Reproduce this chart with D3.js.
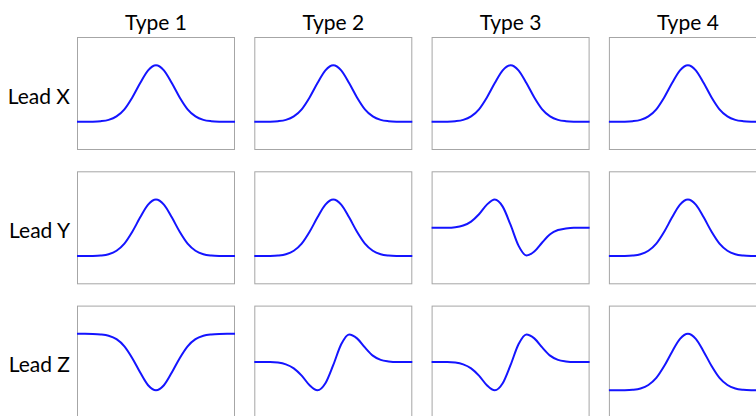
<!DOCTYPE html>
<html>
<head>
<meta charset="utf-8">
<script src="https://cdn.jsdelivr.net/npm/d3@7/dist/d3.min.js"></script>
<style>
  html, body { margin: 0; padding: 0; background: #ffffff; }
  svg { display: block; }
  text { font-family: Lato, "Open Sans", sans-serif; fill: #000; }
</style>
</head>
<body>
<svg id="chart" width="756" height="416"></svg>
<script>
// ---- data ----
const types = ["Type 1", "Type 2", "Type 3", "Type 4"];
const leads = ["Lead X", "Lead Y", "Lead Z"];

// sample positions across each panel (0 = left edge, 1 = right edge)
const sampleX = [0, 0.05, 0.10, 0.15, 0.20, 0.25, 0.30, 0.35, 0.40, 0.45, 0.50,
                 0.55, 0.60, 0.65, 0.70, 0.75, 0.80, 0.85, 0.90, 0.95, 1.00];

// waveform values (panel value range -1 .. 1, bottom .. top)
const upBump   = [-0.50, -0.50, -0.498, -0.49, -0.467, -0.406, -0.28, -0.07, 0.185, 0.41, 0.50,
                  0.41, 0.185, -0.07, -0.28, -0.406, -0.467, -0.49, -0.498, -0.50, -0.50];
const downBump = [0.50, 0.50, 0.498, 0.49, 0.467, 0.406, 0.28, 0.07, -0.185, -0.41, -0.50,
                  -0.41, -0.185, 0.07, 0.28, 0.406, 0.467, 0.49, 0.498, 0.50, 0.50];
const upDown   = [0, 0, 0, 0.009, 0.04, 0.11, 0.24, 0.41, 0.50, 0.375, 0.05,
                  -0.316, -0.49, -0.42, -0.26, -0.115, -0.04, -0.012, 0, 0, 0];
const downUp   = [0, 0, 0, -0.009, -0.04, -0.11, -0.24, -0.41, -0.50, -0.375, -0.05,
                  0.316, 0.49, 0.42, 0.26, 0.115, 0.04, 0.012, 0, 0, 0];

// which waveform sits in each cell (rows = leads, columns = types)
const shapes = { upBump, downBump, upDown, downUp };
const grid = [
  ["upBump",   "upBump", "upBump", "upBump"],
  ["upBump",   "upBump", "upDown", "upBump"],
  ["downBump", "downUp", "downUp", "upBump"]
];

// ---- layout ----
const panelW = 158, panelH = 113;
const col = d3.scaleLinear().domain([0, 1]).range([77, 254.3]);   // left edge per column index
const row = d3.scaleLinear().domain([0, 1]).range([37, 171.3]);   // top edge per row index

const svg = d3.select("#chart");

const x = d3.scaleLinear().domain([0, 1]).range([0, panelW]);
const y = d3.scaleLinear().domain([-1, 1]).range([panelH, 0]);
const line = d3.line()
  .x((d, i) => x(sampleX[i]))
  .y(d => y(d))
  .curve(d3.curveMonotoneX);

// column titles
svg.selectAll("text.type")
  .data(types)
  .join("text")
  .attr("class", "type")
  .attr("x", (d, i) => col(i) + panelW / 2)
  .attr("y", 29.5)
  .attr("text-anchor", "middle")
  .style("font-size", "21px")
  .text(d => d);

// row labels
svg.selectAll("text.lead")
  .data(leads)
  .join("text")
  .attr("class", "lead")
  .attr("x", 70)
  .attr("y", (d, i) => row(i) + panelH / 2 + 10)
  .attr("text-anchor", "end")
  .style("font-size", "21px")
  .text(d => d);

// panels
grid.forEach((rowShapes, r) => {
  rowShapes.forEach((name, c) => {
    const g = svg.append("g")
      .attr("transform", `translate(${col(c)},${row(r)})`);
    g.append("rect")
      .attr("x", 0.5).attr("y", 0.5)
      .attr("width", panelW - 1).attr("height", panelH - 1)
      .attr("fill", "none")
      .attr("stroke", "#a6a6a6")
      .attr("stroke-width", 1);
    g.append("path")
      .datum(shapes[name])
      .attr("d", line)
      .attr("fill", "none")
      .attr("stroke", "#1414ff")
      .attr("stroke-width", 2);
  });
});
</script>
</body>
</html>
